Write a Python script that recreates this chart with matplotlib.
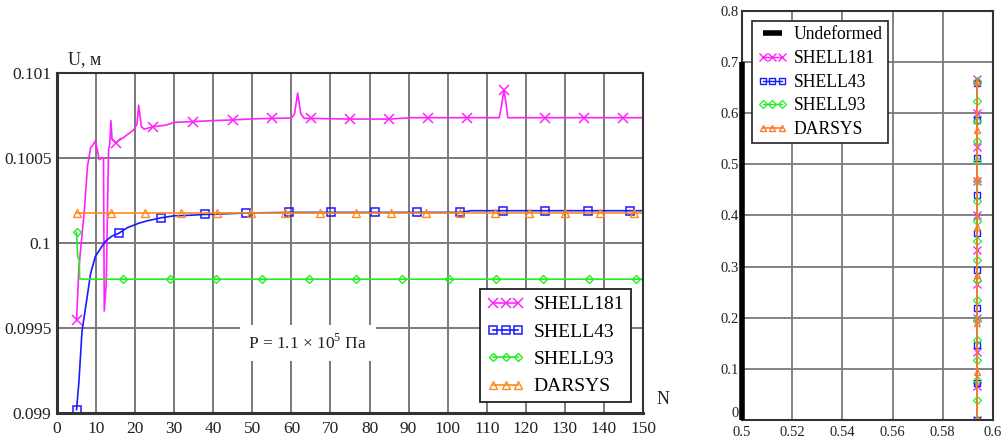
import numpy as np
import matplotlib
matplotlib.use("Agg")
import matplotlib.pyplot as plt

# ---------------- data: left chart ----------------
n181 = [5, 5.6, 6.2, 7.0, 7.8, 8.6, 9.3, 9.8, 10.4, 10.8, 11.5, 11.9, 12.1, 12.6, 13.2, 13.5,
        13.8, 14.1, 15, 17, 19.6, 20.5, 20.9, 21.6, 22.3, 24.7, 28, 30, 34.7, 40, 45, 50, 55,
        60, 60.8, 61.6, 62.4, 63.3, 65, 75, 85, 90.7, 95, 105, 113.2, 113.8, 114.4, 115.0,
        115.4, 125, 135, 145, 150]
u181 = [0.099547, 0.09985, 0.10000, 0.10019, 0.10045, 0.10056, 0.10058, 0.10060, 0.10054,
        0.10049, 0.10050, 0.10050, 0.09960, 0.09976, 0.10055, 0.10058, 0.10072, 0.10061,
        0.10059, 0.10062, 0.100665, 0.10070, 0.10081, 0.100684, 0.10067, 0.100684, 0.100694,
        0.10071, 0.100714, 0.10072, 0.100724, 0.10073, 0.100733, 0.100735, 0.10076, 0.100882,
        0.10076, 0.100733, 0.100733, 0.100729, 0.100729, 0.100737, 0.100737, 0.100737,
        0.100737, 0.10081, 0.10090, 0.10081, 0.100737, 0.100737, 0.100737, 0.100737, 0.100737]
mk181 = [5, 15, 24.7, 34.7, 45, 55, 65, 75, 85, 95, 105, 114.4, 125, 135, 145]

n43 = [5, 5.6, 6.4, 7.7, 8.6, 9.8, 11.5, 12.4, 14, 15.8, 18, 20.9, 23, 26.6, 30, 34, 37.8,
       43, 48.4, 53, 59.5, 64, 70.1, 75, 81.5, 92.1, 103.1, 106, 114.2, 125, 136, 146.7, 150]
u43 = [0.09902, 0.09918, 0.09948, 0.09968, 0.09982, 0.09992, 0.09998, 0.10001, 0.10004,
       0.100057, 0.10009, 0.100116, 0.10013, 0.100148, 0.10016, 0.100163, 0.100168, 0.100172,
       0.100176, 0.100178, 0.10018, 0.10018, 0.10018, 0.10018, 0.10018, 0.10018, 0.10018,
       0.10019, 0.10019, 0.10019, 0.10019, 0.10019, 0.10019]
mk43 = [5, 15.8, 26.6, 37.8, 48.4, 59.5, 70.1, 81.5, 92.1, 103.1, 114.2, 125, 136, 146.7]

n93 = [5, 5.3, 5.7, 5.8, 6.5, 16.8, 28.8, 40.7, 52.6, 64.6, 76.5, 88.4, 100.3, 112.4, 124.4,
       136.3, 148.2, 150]
u93 = [0.100063, 0.09992, 0.09990, 0.09979, 0.099787, 0.099787, 0.099787, 0.099787, 0.099787,
       0.099787, 0.099787, 0.099787, 0.099787, 0.099787, 0.099787, 0.099787, 0.099787, 0.099787]
mk93 = [5, 16.8, 28.8, 40.7, 52.6, 64.6, 76.5, 88.4, 100.3, 112.4, 124.4, 136.3, 148.2]

ndar = [5, 13.8, 22.6, 31.7, 40.9, 49.6, 58.4, 67.4, 76.5, 85.4, 94.5, 103.2, 112.1, 120.9,
        130, 138.9, 147.7, 150]
udar = [0.100178] * 18
mkdar = ndar[:-1]

xticks_left = [0, 10, 20, 30, 40, 50, 60, 70, 80, 90, 100, 110, 120, 130, 140, 150]
yticks_left = [0.099, 0.0995, 0.1, 0.1005, 0.101]
ylabels_left = ["0.099", "0.0995", "0.1", "0.1005", "0.101"]

# ---------------- data: right chart ----------------
undef_x = [0.5, 0.5]
undef_y = [0.0, 0.7]
r181_y = [0, 0.0667, 0.1333, 0.2, 0.2667, 0.3333, 0.4, 0.4667, 0.5333, 0.6, 0.667]
r181_x = [0.5937, 0.5937, 0.5937, 0.5937, 0.5937, 0.5937, 0.5937, 0.5937, 0.5937, 0.5936, 0.5935]
r43_y = [0, 0.0733, 0.1467, 0.22, 0.2933, 0.3667, 0.44, 0.5133, 0.5867, 0.66]
r43_x = [0.5937, 0.5937, 0.5937, 0.5937, 0.5937, 0.5937, 0.5937, 0.5937, 0.5937, 0.5936]
r93_y = [0, 0.039, 0.078, 0.117, 0.156, 0.195, 0.234, 0.273, 0.312, 0.351, 0.39, 0.429,
         0.468, 0.507, 0.546, 0.585, 0.624, 0.663]
r93_x = [0.5937, 0.5937, 0.5937, 0.5937, 0.5937, 0.5937, 0.5937, 0.5937, 0.5937, 0.5937,
         0.5937, 0.5937, 0.5937, 0.5937, 0.5937, 0.5937, 0.5936, 0.5936]
rdar_y = [0, 0.0946, 0.1891, 0.2837, 0.3783, 0.4729, 0.5674, 0.662]
rdar_x = [0.5937, 0.5937, 0.5937, 0.5937, 0.5937, 0.5937, 0.5937, 0.5937]

xticks_right = [0.5, 0.52, 0.54, 0.56, 0.58, 0.6]
xlabels_right = ["0.5", "0.52", "0.54", "0.56", "0.58", "0.6"]
yticks_right = [0, 0.1, 0.2, 0.3, 0.4, 0.5, 0.6, 0.7, 0.8]
ylabels_right = ["0", "0.1", "0.2", "0.3", "0.4", "0.5", "0.6", "0.7", "0.8"]

# ---------------- style ----------------
plt.rcParams['font.family'] = ['Liberation Serif', 'DejaVu Serif']
plt.rcParams['mathtext.fontset'] = 'custom'
plt.rcParams['mathtext.rm'] = 'Liberation Serif'

C181, C43, C93, CDAR = '#ff22ff', '#1a1aff', '#22ee22', '#ff8a1a'
CDAR_R = '#ff7a30'
GRID = '#7a7a7a'
SPINE = '#333333'

fig = plt.figure(figsize=(10.08, 4.45), dpi=100)

# ---------------- left axes ----------------
ax = fig.add_axes([57 / 1008, 1 - 413 / 445, 586 / 1008, 340 / 445])


def mask(n, mk):
    return [any(abs(v - m) < 1e-9 for m in mk) for v in n]


ax.plot(n181, u181, color=C181, lw=1.2, marker='x', ms=6.5, mew=1.1, markevery=mask(n181, mk181),
        label='SHELL181')
ax.plot(n43, u43, color=C43, lw=1.2, marker='s', ms=6, mew=1.1, mfc='none',
        markevery=mask(n43, mk43), label='SHELL43')
ax.plot(n93, u93, color=C93, lw=1.2, marker='D', ms=4.5, mew=1.0, mfc='none',
        markevery=mask(n93, mk93), label='SHELL93')
ax.plot(ndar, udar, color=CDAR, lw=1.2, marker='^', ms=6, mew=1.0, mfc='none',
        markevery=mask(ndar, mkdar), label='DARSYS')

ax.set_xlim(0, 150)
ax.set_ylim(0.099, 0.101)
ax.set_xticks(xticks_left)
ax.set_yticks(yticks_left)
ax.set_yticklabels(ylabels_left)
ax.grid(True, color=GRID, lw=1.4)
ax.set_axisbelow(True)
ax.tick_params(length=0, labelsize=12.5, pad=4, colors='#222222')
ax.tick_params(axis='x', pad=6)
for s in ax.spines.values():
    s.set_color(SPINE)
    s.set_linewidth(1.5)
ax.spines['left'].set_linewidth(2.2)
ax.spines['bottom'].set_linewidth(2.2)

leg = ax.legend(loc='lower right', bbox_to_anchor=(0.98, 0.032), borderaxespad=0,
                fontsize=14, numpoints=3, handlelength=1.9, handletextpad=0.5,
                labelspacing=0.5, borderpad=0.35, fancybox=False, framealpha=1)
leg.get_frame().set_edgecolor('#222222')
leg.get_frame().set_linewidth(1.3)

ax.text(49, 0.09941, r'P = 1.1 $\times$ 10$^{5}$ Па', fontsize=12.5, va='center', ha='left',
        color='#222222',
        bbox=dict(facecolor='white', edgecolor='none', pad=6))

fig.text(68 / 1008, 1 - 60 / 445, 'U, м', fontsize=13, va='center', ha='left', color='#222222')
fig.text(663 / 1008, 1 - 400 / 445, 'N', fontsize=13, va='center', ha='center', color='#222222')

# ---------------- right axes ----------------
ax2 = fig.add_axes([742 / 1008, 1 - 420 / 445, 251 / 1008, 409 / 445])
ax2.plot(r181_x, r181_y, color=C181, lw=1.0, marker='x', ms=5.5, mew=1.0, label='SHELL181')
ax2.plot(r43_x, r43_y, color=C43, lw=1.0, marker='s', ms=5, mew=1.0, mfc='none',
         label='SHELL43')
ax2.plot(r93_x, r93_y, color=C93, lw=1.0, marker='D', ms=3.8, mew=0.9, mfc='none',
         label='SHELL93')
ax2.plot(rdar_x, rdar_y, color=CDAR_R, lw=1.2, marker='^', ms=5, mew=1.0, mfc='none',
         label='DARSYS')
undef_line, = ax2.plot(undef_x, undef_y, color='black', lw=4, clip_on=False, label='Undeformed',
                       solid_capstyle='butt', zorder=5)

ax2.set_xlim(0.5, 0.6)
ax2.set_ylim(0, 0.8)
ax2.set_xticks(xticks_right)
ax2.set_xticklabels(xlabels_right)
ax2.set_yticks(yticks_right)
ax2.set_yticklabels(ylabels_right)
ax2.grid(True, color=GRID, lw=1.3)
ax2.set_axisbelow(True)
ax2.tick_params(length=0, labelsize=10.5, pad=2, colors='#222222')
ax2.tick_params(axis='x', pad=4)
for s in ax2.spines.values():
    s.set_color(SPINE)
    s.set_linewidth(1.5)
ax2.get_yticklabels()[0].set_verticalalignment('bottom')

handles, labels = ax2.get_legend_handles_labels()
order = [4, 0, 1, 2, 3]
leg2 = ax2.legend([handles[i] for i in order], [labels[i] for i in order],
                  loc='upper left', bbox_to_anchor=(0.04, 0.9756), borderaxespad=0,
                  fontsize=12.7, numpoints=3, handlelength=1.7, handletextpad=0.35,
                  labelspacing=0.38, borderpad=0.3, fancybox=False, framealpha=1)
leg2.get_frame().set_edgecolor('#222222')
leg2.get_frame().set_linewidth(1.2)

fig.savefig('out.png', dpi=100)
